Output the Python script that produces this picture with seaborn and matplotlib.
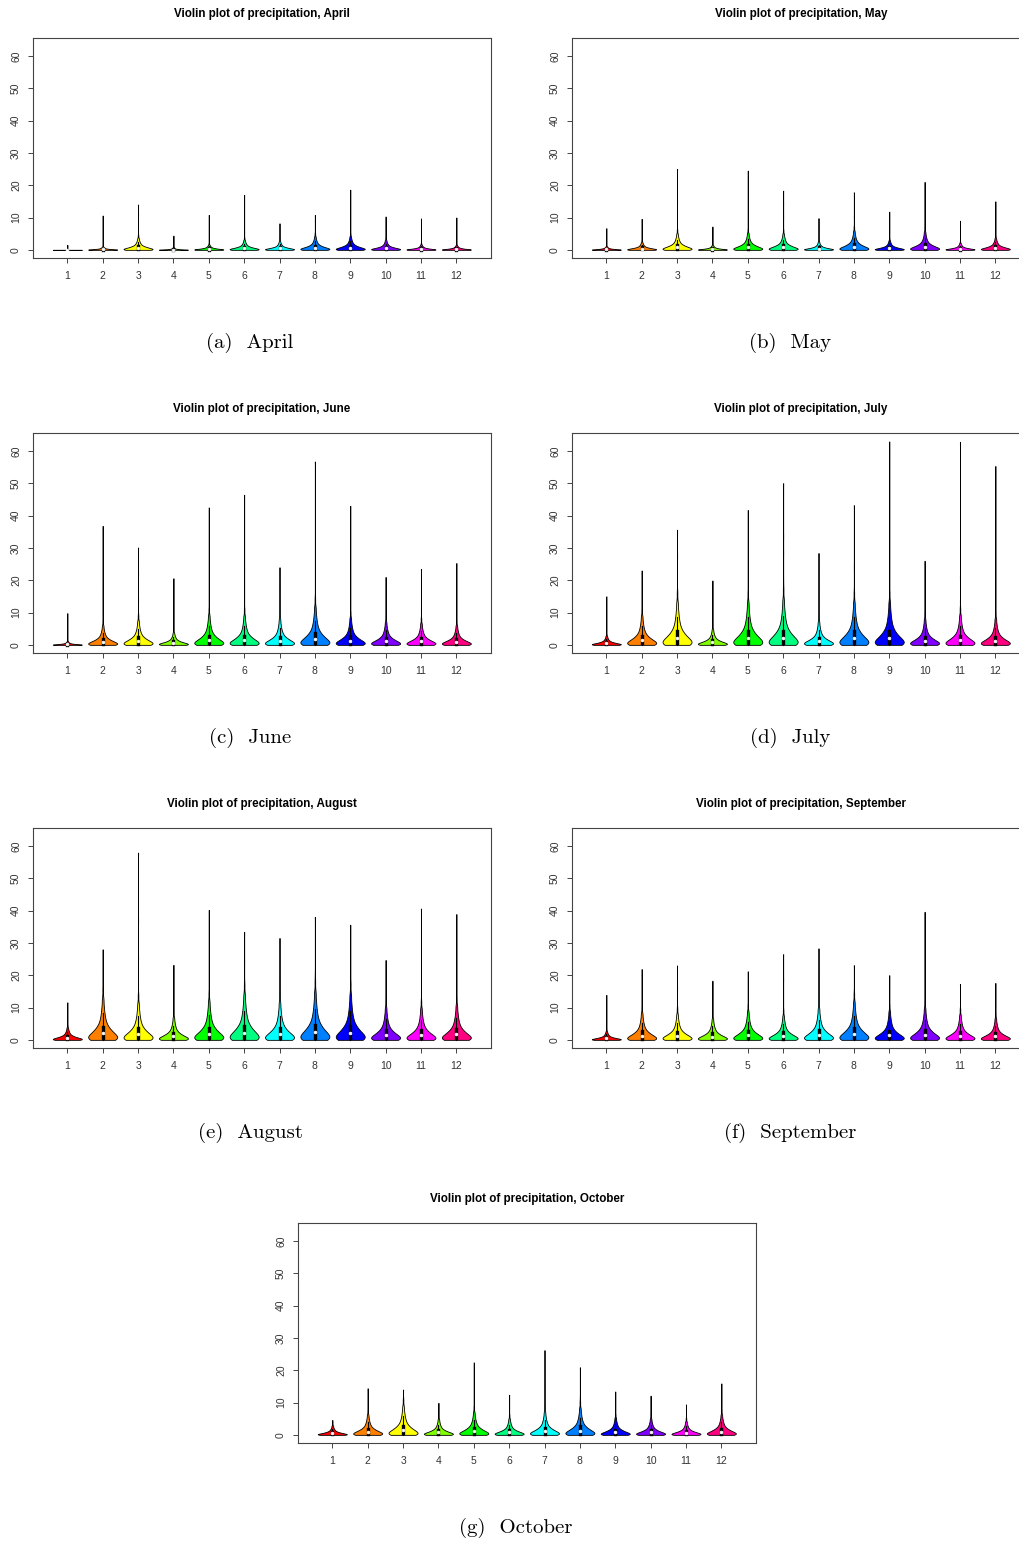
import numpy as np
import pandas as pd
import matplotlib
matplotlib.use("Agg")
import matplotlib.pyplot as plt
import seaborn as sns

plt.rcParams['font.family'] = ['Liberation Sans', 'DejaVu Sans']

# ---- data (precipitation levels per station) ----
# each list: 12 body levels (low -> high) followed by the isolated high values
stations = [str(i) for i in range(1, 13)]
colors = ['#FF0000', '#FF8000', '#FFFF00', '#80FF00', '#00FF00', '#00FF80',
          '#00FFFF', '#0080FF', '#0000FF', '#8000FF', '#FF00FF', '#FF0080']
# estimated number of observations at each of the 12 body levels
body_counts = [70, 40, 40, 40, 34, 26, 19, 15, 12, 10, 8, 3]

april = [
    [0, 0, 0, 0, 0, 0, 0, 0, 0, 0, 0.1, 0.3, 1.5],
    [0, .05, .1, .16, .23, .31, .41, .52, .64, .78, .96, 1.2, 10.6],
    [0, .18, .35, .57, .84, 1.14, 1.5, 1.9, 2.33, 2.86, 3.52, 4.4, 10.8, 14],
    [0, .03, .06, .1, .15, .21, .27, .34, .42, .52, .64, .8, 4.4],
    [0, .08, .16, .26, .38, .52, .68, .86, 1.06, 1.3, 1.6, 2.0, 8, 10.8],
    [0, .15, .3, .48, .7, .96, 1.26, 1.59, 1.96, 2.4, 2.96, 3.7, 5.5, 14.5, 17],
    [0, .13, .26, .42, .61, .83, 1.09, 1.38, 1.7, 2.08, 2.56, 3.2, 8.2],
    [0, .2, .4, .65, .95, 1.3, 1.7, 2.15, 2.65, 3.25, 4.0, 5.0, 9, 10.8],
    [0, .2, .4, .65, .95, 1.3, 1.7, 2.15, 2.65, 3.25, 4.0, 5.0, 18.6],
    [0, .15, .3, .48, .7, .96, 1.26, 1.59, 1.96, 2.4, 2.96, 3.7, 10.3],
    [0, .08, .16, .26, .38, .52, .68, .86, 1.06, 1.3, 1.6, 2.0, 4.3, 9.7],
    [0, .07, .14, .23, .34, .47, .61, .77, .95, 1.17, 1.44, 1.8, 6.5, 10],
]
may = [
    [0, .05, .1, .17, .25, .34, .44, .56, .69, .85, 1.04, 1.3, 6.7],
    [0, .12, .23, .38, .55, .75, .99, 1.25, 1.54, 1.89, 2.32, 2.9, 5.5, 9.6],
    [0, .24, .48, .78, 1.14, 1.56, 2.04, 2.58, 3.18, 3.9, 4.8, 6.0, 15, 25],
    [0, .07, .14, .23, .34, .47, .61, .77, .95, 1.17, 1.44, 1.8, 3.4, 7.2],
    [0, .25, .5, .82, 1.2, 1.64, 2.14, 2.71, 3.34, 4.1, 5.04, 6.3, 12.5, 15, 24.5],
    [0, .24, .48, .78, 1.14, 1.56, 2.04, 2.58, 3.18, 3.9, 4.8, 6.0, 10.5, 14.5, 18.3],
    [0, .12, .24, .39, .57, .78, 1.02, 1.29, 1.59, 1.95, 2.4, 3.0, 6.5, 9.8],
    [0, .28, .56, .91, 1.33, 1.82, 2.38, 3.01, 3.71, 4.55, 5.6, 7.0, 10.3, 17.8],
    [0, .14, .28, .46, .67, .91, 1.19, 1.5, 1.86, 2.28, 2.8, 3.5, 5.5, 8, 11.8],
    [0, .27, .54, .87, 1.27, 1.74, 2.28, 2.88, 3.55, 4.36, 5.36, 6.7, 21],
    [0, .1, .2, .33, .48, .65, .85, 1.08, 1.33, 1.63, 2.0, 2.5, 6.2, 9],
    [0, .18, .35, .57, .84, 1.14, 1.5, 1.9, 2.33, 2.86, 3.52, 4.4, 9.3, 15],
]
june = [
    [0, .05, .1, .17, .25, .34, .44, .56, .69, .85, 1.04, 1.3, 2.9, 9.8],
    [0, .29, .58, .94, 1.37, 1.87, 2.45, 3.1, 3.82, 4.68, 5.76, 7.2, 16, 36.8],
    [0, .36, .72, 1.17, 1.71, 2.34, 3.06, 3.87, 4.77, 5.85, 7.2, 9.0, 14, 22, 30.1],
    [0, .18, .37, .6, .87, 1.2, 1.56, 1.98, 2.44, 2.99, 3.68, 4.6, 12, 20.6],
    [0, .44, .88, 1.43, 2.09, 2.86, 3.74, 4.73, 5.83, 7.15, 8.8, 11, 21, 38, 42.5],
    [0, .43, .86, 1.4, 2.05, 2.81, 3.67, 4.64, 5.72, 7.02, 8.64, 10.8, 23.5, 46.4],
    [0, .38, .77, 1.25, 1.82, 2.5, 3.26, 4.13, 5.09, 6.24, 7.68, 9.6, 12.5, 18, 24],
    [0, .57, 1.14, 1.85, 2.7, 3.69, 4.83, 6.11, 7.53, 9.23, 11.36, 14.2, 56.7],
    [0, .4, .8, 1.3, 1.9, 2.6, 3.4, 4.3, 5.3, 6.5, 8.0, 10, 43],
    [0, .34, .68, 1.1, 1.62, 2.21, 2.89, 3.66, 4.5, 5.53, 6.8, 8.5, 11.6, 21],
    [0, .32, .64, 1.04, 1.52, 2.08, 2.72, 3.44, 4.24, 5.2, 6.4, 8.0, 11, 23.5],
    [0, .29, .58, .94, 1.37, 1.87, 2.45, 3.1, 3.82, 4.68, 5.76, 7.2, 13.7, 25.3],
]
july = [
    [0, .14, .27, .44, .65, .88, 1.16, 1.46, 1.8, 2.21, 2.72, 3.4, 5.5, 15],
    [0, .43, .86, 1.4, 2.05, 2.81, 3.67, 4.64, 5.72, 7.02, 8.64, 10.8, 13.7, 23],
    [0, .64, 1.28, 2.08, 3.04, 4.16, 5.44, 6.88, 8.48, 10.4, 12.8, 16, 27.3, 35.6],
    [0, .23, .46, .75, 1.1, 1.51, 1.97, 2.49, 3.07, 3.77, 4.64, 5.8, 19.9],
    [0, .64, 1.28, 2.08, 3.04, 4.16, 5.44, 6.88, 8.48, 10.4, 12.8, 16, 33, 38, 41.7],
    [0, .68, 1.36, 2.21, 3.23, 4.42, 5.78, 7.31, 9.01, 11.05, 13.6, 17, 20, 28.5, 33.5, 50],
    [0, .35, .7, 1.13, 1.65, 2.26, 2.96, 3.74, 4.61, 5.66, 6.96, 8.7, 15, 22, 28.4],
    [0, .64, 1.28, 2.08, 3.04, 4.16, 5.44, 6.88, 8.48, 10.4, 12.8, 16, 24, 43.2],
    [0, .64, 1.28, 2.08, 3.04, 4.16, 5.44, 6.88, 8.48, 10.4, 12.8, 16, 62.9],
    [0, .38, .77, 1.25, 1.82, 2.5, 3.26, 4.13, 5.09, 6.24, 7.68, 9.6, 26],
    [0, .44, .89, 1.44, 2.11, 2.89, 3.77, 4.77, 5.88, 7.22, 8.88, 11.1, 13.5, 21, 62.8],
    [0, .39, .78, 1.27, 1.86, 2.55, 3.33, 4.21, 5.19, 6.37, 7.84, 9.8, 16.5, 24, 55.3],
]
august = [
    [0, .18, .37, .6, .87, 1.2, 1.56, 1.98, 2.44, 2.99, 3.68, 4.6, 11.6],
    [0, .62, 1.24, 2.02, 2.95, 4.03, 5.27, 6.67, 8.22, 10.08, 12.4, 15.5, 17.3, 28],
    [0, .55, 1.1, 1.78, 2.6, 3.56, 4.66, 5.89, 7.26, 8.91, 10.96, 13.7, 25.5, 37, 57.9],
    [0, .33, .66, 1.08, 1.58, 2.16, 2.82, 3.57, 4.4, 5.4, 6.64, 8.3, 23.2],
    [0, .58, 1.16, 1.89, 2.76, 3.77, 4.93, 6.24, 7.69, 9.43, 11.6, 14.5, 29, 37, 40.2],
    [0, .68, 1.36, 2.21, 3.23, 4.42, 5.78, 7.31, 9.01, 11.05, 13.6, 17, 24, 33.4],
    [0, .56, 1.12, 1.82, 2.66, 3.64, 4.76, 6.02, 7.42, 9.1, 11.2, 14, 17.3, 31.5],
    [0, .72, 1.44, 2.34, 3.42, 4.68, 6.12, 7.74, 9.54, 11.7, 14.4, 18, 20.9, 38],
    [0, .68, 1.36, 2.21, 3.23, 4.42, 5.78, 7.31, 9.01, 11.05, 13.6, 17, 18.8, 35.6],
    [0, .48, .96, 1.56, 2.28, 3.12, 4.08, 5.16, 6.36, 7.8, 9.6, 12, 24.7],
    [0, .47, .94, 1.53, 2.24, 3.07, 4.01, 5.07, 6.25, 7.67, 9.44, 11.8, 40.6],
    [0, .52, 1.03, 1.68, 2.45, 3.35, 4.39, 5.55, 6.84, 8.39, 10.32, 12.9, 17.3, 38.9],
]
september = [
    [0, .13, .26, .42, .61, .83, 1.09, 1.38, 1.7, 2.08, 2.56, 3.2, 6.5, 13.9],
    [0, .4, .8, 1.3, 1.9, 2.6, 3.4, 4.3, 5.3, 6.5, 8.0, 10, 13.4, 21.9],
    [0, .38, .77, 1.25, 1.82, 2.5, 3.26, 4.13, 5.09, 6.24, 7.68, 9.6, 16, 23],
    [0, .31, .62, 1.01, 1.48, 2.03, 2.65, 3.35, 4.13, 5.07, 6.24, 7.8, 18.3],
    [0, .42, .85, 1.38, 2.01, 2.76, 3.6, 4.56, 5.62, 6.89, 8.48, 10.6, 21.2],
    [0, .36, .72, 1.17, 1.71, 2.34, 3.06, 3.87, 4.77, 5.85, 7.2, 9.0, 18.5, 26.5],
    [0, .47, .94, 1.53, 2.24, 3.07, 4.01, 5.07, 6.25, 7.67, 9.44, 11.8, 14.5, 18, 28.3],
    [0, .57, 1.14, 1.85, 2.7, 3.69, 4.83, 6.11, 7.53, 9.23, 11.36, 14.2, 23.1],
    [0, .42, .85, 1.38, 2.01, 2.76, 3.6, 4.56, 5.62, 6.89, 8.48, 10.6, 20],
    [0, .47, .94, 1.53, 2.24, 3.07, 4.01, 5.07, 6.25, 7.67, 9.44, 11.8, 39.6],
    [0, .37, .74, 1.21, 1.77, 2.42, 3.16, 4.0, 4.93, 6.05, 7.44, 9.3, 17.3],
    [0, .32, .64, 1.04, 1.52, 2.08, 2.72, 3.44, 4.24, 5.2, 6.4, 8.0, 10, 14.7, 17.6],
]
october = [
    [0, .14, .27, .44, .65, .88, 1.16, 1.46, 1.8, 2.21, 2.72, 3.4, 4.6],
    [0, .3, .6, .98, 1.43, 1.95, 2.55, 3.23, 3.98, 4.88, 6.0, 7.5, 14.4],
    [0, .43, .86, 1.4, 2.05, 2.81, 3.67, 4.64, 5.72, 7.02, 8.64, 10.8, 14],
    [0, .23, .46, .75, 1.1, 1.51, 1.97, 2.49, 3.07, 3.77, 4.64, 5.8, 9.9],
    [0, .34, .68, 1.1, 1.62, 2.21, 2.89, 3.66, 4.5, 5.53, 6.8, 8.5, 18.5, 22.4],
    [0, .24, .48, .78, 1.14, 1.56, 2.04, 2.58, 3.18, 3.9, 4.8, 6.0, 12.4],
    [0, .34, .68, 1.1, 1.62, 2.21, 2.89, 3.66, 4.5, 5.53, 6.8, 8.5, 12, 22, 26.2],
    [0, .4, .8, 1.3, 1.9, 2.6, 3.4, 4.3, 5.3, 6.5, 8.0, 10, 11.5, 20.9],
    [0, .25, .5, .82, 1.2, 1.64, 2.14, 2.71, 3.34, 4.1, 5.04, 6.3, 10.6, 13.4],
    [0, .24, .48, .78, 1.14, 1.56, 2.04, 2.58, 3.18, 3.9, 4.8, 6.0, 11.6, 12.1],
    [0, .2, .4, .65, .95, 1.3, 1.7, 2.15, 2.65, 3.25, 4.0, 5.0, 8, 9.4],
    [0, .3, .6, .98, 1.43, 1.95, 2.55, 3.23, 3.98, 4.88, 6.0, 7.5, 9.3, 15.9],
]

months = ["April", "May", "June", "July", "August", "September", "October"]
letters = ["(a)", "(b)", "(c)", "(d)", "(e)", "(f)", "(g)"]
datasets = [april, may, june, july, august, september, october]
yticks = [0, 10, 20, 30, 40, 50, 60]

# ---- layout (pixel geometry of the page) ----
W, H = 1020, 1541
ax_left = [33, 572, 33, 572, 33, 572, 298]
ax_top = [38, 38, 433, 433, 828, 828, 1223]
ax_w, ax_h = 458, 220
cap_x = [250, 790, 250, 790, 250, 790, 516]


def robust_bw(kde):
    d = kde.dataset.ravel()
    h = 0.108 * np.percentile(d, 95) + 1e-3
    s = d.std(ddof=1)
    return h / s if s > 0 else 1.0


fig = plt.figure(figsize=(W / 100, H / 100), dpi=100)

for i, (month, data) in enumerate(zip(months, datasets)):
    rows = []
    for st, vals in zip(stations, data):
        counts = body_counts + [1] * (len(vals) - len(body_counts))
        for v, c in zip(vals, counts):
            rows += [(st, v)] * c
    df = pd.DataFrame(rows, columns=["station", "precip"])
    rect = [ax_left[i] / W, 1 - (ax_top[i] + ax_h) / H, ax_w / W, ax_h / H]
    ax = fig.add_axes(rect)
    sns.violinplot(data=df, x="station", y="precip", hue="station",
                   order=stations, hue_order=stations, palette=colors,
                   saturation=1, legend=False, cut=0, density_norm="width",
                   bw_method=robust_bw, bw_adjust=1, gridsize=600, width=0.82,
                   linewidth=0.6, linecolor="black", inner="box",
                   inner_kws=dict(box_width=2.4, whis_width=0.8, marker="o"),
                   ax=ax)
    ax.set_xlim(-0.97, 11.98)
    ax.set_ylim(-2.52, 65.52)
    ax.set_yticks(yticks)
    ax.set_yticklabels([str(t) for t in yticks])
    ax.set_xlabel("")
    ax.set_ylabel("")
    for sp in ax.spines.values():
        sp.set_visible(True)
        sp.set_color("#444444")
        sp.set_linewidth(0.8)
    ax.tick_params(axis="both", length=3.6, width=0.7, color="#444444",
                   labelsize=7.5, labelcolor="#333333")
    ax.tick_params(axis="x", pad=6)
    ax.tick_params(axis="y", pad=5, labelrotation=90)
    for lab in ax.get_yticklabels():
        lab.set_va("center")
    cx = (ax_left[i] + ax_w / 2) / W
    fig.text(cx, 1 - (ax_top[i] - 24) / H, f"Violin plot of precipitation, {month}",
             ha="center", va="center", fontsize=8.4, fontweight="bold")
    fig.text(cap_x[i] / W, 1 - (ax_top[i] + 305) / H, f"{letters[i]}  {month}",
             ha="center", va="center", fontsize=15, family="cmr10")

fig.savefig("out.png", dpi=100)
